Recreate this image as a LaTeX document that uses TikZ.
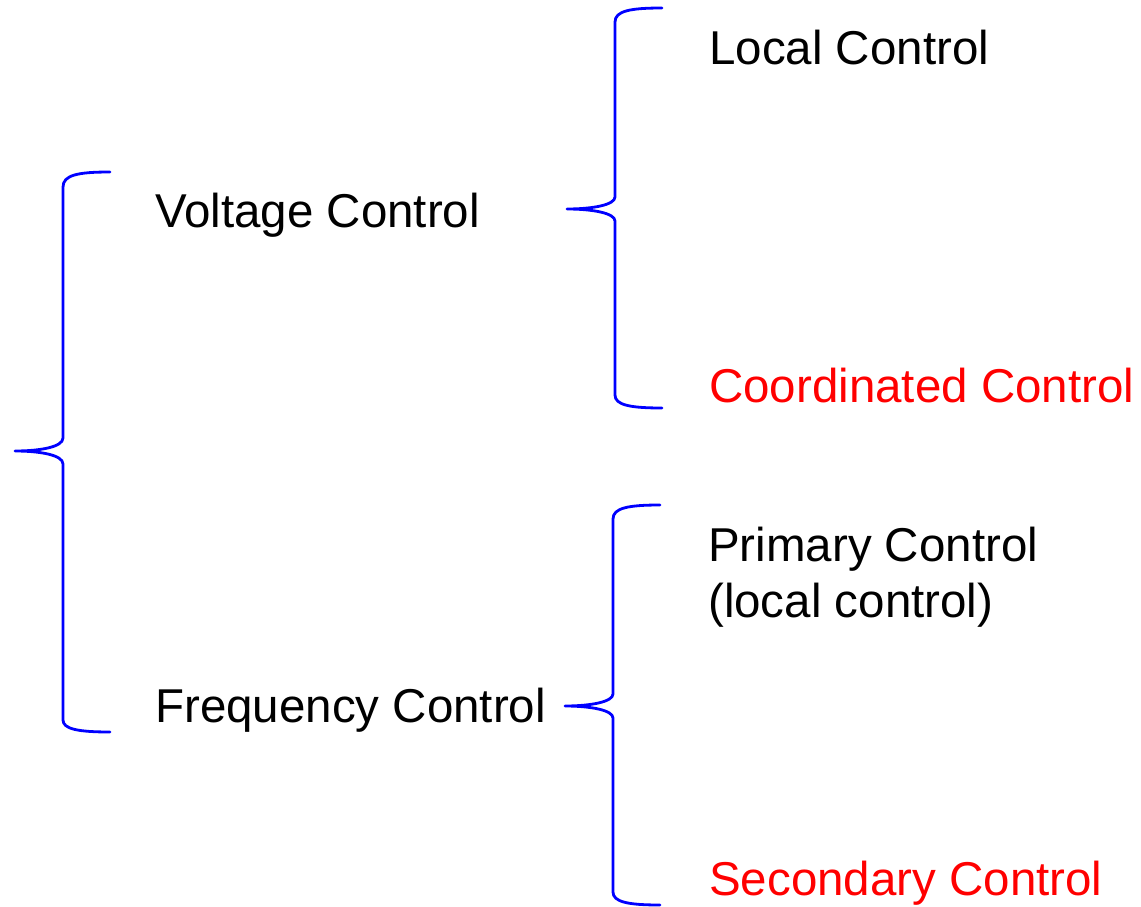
\documentclass[tikz,border=0pt]{standalone}
\usepackage{fontspec}
\setmainfont{Liberation Sans}
\begin{document}
\begin{tikzpicture}[x=1pt,y=-1pt,
  lbl/.style={anchor=base west,inner sep=0pt,font=\fontsize{47.5}{56}\selectfont,text=black},
  hl/.style={lbl,text=red},
  brace/.style={draw=blue,line width=2.8pt,line cap=round,line join=round}]
\useasboundingbox (0,0) rectangle (1141,907);
% texts
\node[lbl] (vc) at (155,227) {Voltage Control};
\node[lbl] (fc) at (155,722) {Frequency Control};
\node[lbl] (lc) at (709,65) {Local Control};
\node[hl] (cc) at (709,402) {Coordinated Control};
\node[lbl,align=left,anchor=north west] (pc) at (708,527) {Primary Control\\(local control)};
\node[hl] (sc) at (709,895) {Secondary Control};
% brace coordinates
\coordinate (t0) at (15,451);
\coordinate (t1) at (567,209);
\coordinate (t2) at (565,706);
% main brace
\path[brace] (110,172) .. controls (78,172) and (63,175) .. (63,187) -- (63,438)
  .. controls (63,447) and (40,451) .. (t0)
  .. controls (40,451) and (63,455) .. (63,464) -- (63,720)
  .. controls (63,729) and (78,732) .. (110,732);
% voltage brace
\path[brace] (662,8) .. controls (630,8) and (615,11) .. (615,22) -- (615,197)
  .. controls (615,205) and (592,209) .. (t1)
  .. controls (592,209) and (615,213) .. (615,221) -- (615,395)
  .. controls (615,405) and (630,408) .. (662,408);
% frequency brace
\path[brace] (660,505) .. controls (628,505) and (613,508) .. (613,519) -- (613,694)
  .. controls (613,702) and (590,706) .. (t2)
  .. controls (590,706) and (613,710) .. (613,718) -- (613,892)
  .. controls (613,902) and (628,905) .. (660,905);
\end{tikzpicture}
\end{document}
